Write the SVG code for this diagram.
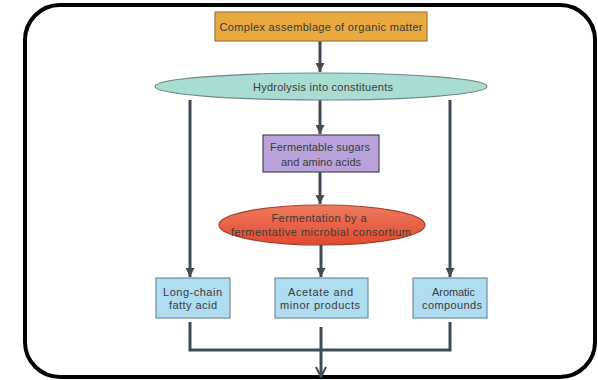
<svg xmlns="http://www.w3.org/2000/svg" width="598" height="380" viewBox="0 0 598 380">
<defs>
<style>
.lbl{font-family:"Liberation Sans","DejaVu Sans",sans-serif;font-size:11px;fill:#3a3a3a;text-anchor:middle;dominant-baseline:central}
.conn{fill:none;stroke:#404b55;stroke-width:3}
.box-blue{fill:#afdcf0;stroke:#6f8c9c;stroke-width:1.2}
</style>
<marker id="arr" viewBox="0 0 10 10" refX="10" refY="5" markerWidth="9" markerHeight="9" markerUnits="userSpaceOnUse" orient="auto">
<path d="M0,0 L10,5 L0,10 Z" fill="#404b55"/>
</marker>
<marker id="vee" viewBox="0 0 12 12" refX="11" refY="6" markerWidth="12" markerHeight="12" markerUnits="userSpaceOnUse" orient="auto">
<path d="M1,1 L11,6 L1,11" fill="none" stroke="#404b55" stroke-width="2"/>
</marker>
<linearGradient id="redg" x1="0" y1="0" x2="0" y2="1">
<stop offset="0" stop-color="#f07a5e"/>
<stop offset="1" stop-color="#e04a30"/>
</linearGradient>
</defs>
<rect x="0" y="0" width="598" height="380" fill="#ffffff"/>
<rect x="25" y="5" width="570" height="372" rx="35" ry="35" fill="none" stroke="#000" stroke-width="4"/>

<g id="connectors">
<path class="conn" d="M320,41 V72" marker-end="url(#arr)"/>
<path class="conn" d="M320,100 V134" marker-end="url(#arr)"/>
<path class="conn" d="M320,172 V204" marker-end="url(#arr)"/>
<path class="conn" d="M321,245 V277" marker-end="url(#arr)"/>
<path class="conn" d="M190,100 V277" marker-end="url(#arr)"/>
<path class="conn" d="M450,100 V277" marker-end="url(#arr)"/>
<path class="conn" d="M190,322 V350 H450 V322"/>
<path class="conn" d="M321,327 V377" marker-end="url(#vee)"/>
</g>

<g id="organic-matter">
<rect x="215" y="12" width="212" height="29" fill="#e9a93f" stroke="#9a7a40" stroke-width="1.2"/>
<text class="lbl" x="321" y="26.5" textLength="203" lengthAdjust="spacing">Complex assemblage of organic matter</text>
</g>

<g id="hydrolysis">
<ellipse cx="321" cy="86.5" rx="166" ry="13.5" fill="#a9ddd3" stroke="#6e8a88" stroke-width="1.2"/>
<text class="lbl" x="323" y="86.5" textLength="140" lengthAdjust="spacing">Hydrolysis into constituents</text>
</g>

<g id="sugars">
<rect x="263" y="135" width="116" height="37" fill="#b9a3da" stroke="#4e4458" stroke-width="1.2"/>
<text class="lbl" x="320" y="147" textLength="100" lengthAdjust="spacing">Fermentable sugars</text>
<text class="lbl" x="321" y="162" textLength="80" lengthAdjust="spacing">and amino acids</text>
</g>

<g id="fermentation">
<ellipse cx="322" cy="225" rx="103" ry="20" fill="url(#redg)" stroke="#a0402c" stroke-width="1.2"/>
<text class="lbl" x="319" y="218" textLength="95" lengthAdjust="spacing">Fermentation by a</text>
<text class="lbl" x="321" y="231.5" textLength="180" lengthAdjust="spacing">fermentative microbial consortium</text>
</g>

<g id="long-chain">
<rect class="box-blue" x="156" y="278" width="74" height="40"/>
<text class="lbl" x="192.5" y="292" textLength="59" lengthAdjust="spacing">Long-chain</text>
<text class="lbl" x="193" y="305" textLength="48" lengthAdjust="spacing">fatty acid</text>
</g>

<g id="acetate">
<rect class="box-blue" x="275" y="278" width="93" height="40"/>
<text class="lbl" x="320.5" y="292" textLength="65" lengthAdjust="spacing">Acetate and</text>
<text class="lbl" x="320" y="305" textLength="80" lengthAdjust="spacing">minor products</text>
</g>

<g id="aromatic">
<rect class="box-blue" x="413" y="278" width="74" height="40"/>
<text class="lbl" x="453.5" y="292" textLength="43" lengthAdjust="spacing">Aromatic</text>
<text class="lbl" x="452" y="305" textLength="60" lengthAdjust="spacing">compounds</text>
</g>
</svg>
